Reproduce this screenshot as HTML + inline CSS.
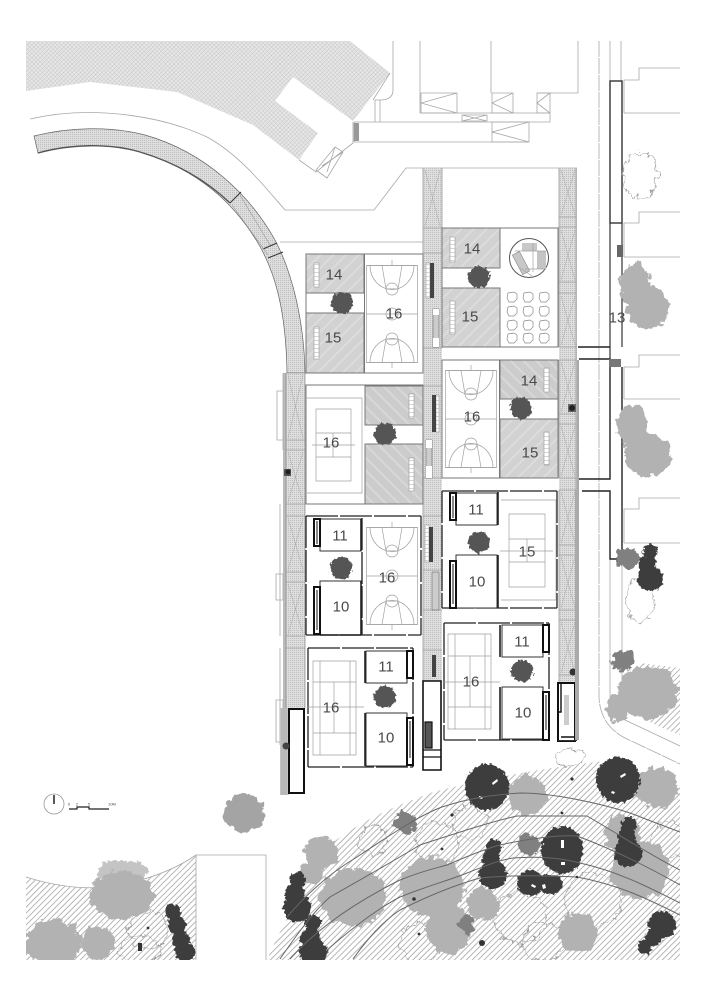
<!DOCTYPE html>
<html><head><meta charset="utf-8"><style>
html,body{margin:0;padding:0;background:#fff}
svg{display:block}
text{font-family:"Liberation Sans",sans-serif;font-size:15px;fill:#4a4a4a;text-anchor:middle;dominant-baseline:central}
.l{fill:none;stroke:#a8a8a8;stroke-width:.8}
.k{fill:none;stroke:#222;stroke-width:1.6}
.w{fill:#fff;stroke:#111;stroke-width:2}
.c{fill:none;stroke:#a0a0a0;stroke-width:.7}
.p{fill:none;stroke:#666;stroke-width:1}
</style></head><body>
<svg width="707" height="1000" viewBox="0 0 707 1000" xmlns="http://www.w3.org/2000/svg">
<defs>
<pattern id="x" width="3" height="3" patternUnits="userSpaceOnUse" patternTransform="rotate(45)"><rect width="3" height="3" fill="#e6e6e6"/><path d="M0 0H3M0 0V3" stroke="#b4b4b4" stroke-width=".6"/></pattern>
<pattern id="h" width="4.2" height="4.2" patternUnits="userSpaceOnUse" patternTransform="rotate(-45)"><path d="M0 .5H4.2" stroke="#909090" stroke-width=".65"/></pattern>
<pattern id="g" width="2" height="2" patternUnits="userSpaceOnUse"><rect width="2" height="2" fill="#dedede"/><rect width="1" height="1" fill="#bdbdbd"/></pattern>
<pattern id="s" width="9" height="9" patternUnits="userSpaceOnUse" patternTransform="rotate(-45)"><rect width="9" height="9" fill="#d2d2d2"/><path d="M0 2H9" stroke="#dcdcdc" stroke-width="2"/></pattern>
<pattern id="s2" width="9" height="9" patternUnits="userSpaceOnUse" patternTransform="rotate(45)"><rect width="9" height="9" fill="#cccccc"/><path d="M0 2H9" stroke="#d8d8d8" stroke-width="2"/></pattern>
<pattern id="b" width="5" height="4" patternUnits="userSpaceOnUse"><rect width="5" height="4" fill="#fff"/><path d="M0 0H5" stroke="#999" stroke-width=".8"/></pattern>
<filter id="t" filterUnits="userSpaceOnUse" x="0" y="0" width="707" height="1000" color-interpolation-filters="sRGB"><feTurbulence type="fractalNoise" baseFrequency=".14" numOctaves="3" seed="4"/><feDisplacementMap in="SourceGraphic" scale="11" xChannelSelector="R" yChannelSelector="G"/></filter>
<filter id="t2" filterUnits="userSpaceOnUse" x="0" y="0" width="707" height="1000" color-interpolation-filters="sRGB"><feTurbulence type="fractalNoise" baseFrequency=".3" numOctaves="2" seed="9"/><feDisplacementMap in="SourceGraphic" scale="6" xChannelSelector="R" yChannelSelector="G"/></filter>
<clipPath id="cl"><rect x="26" y="41" width="654" height="919"/></clipPath>
<g id="hc"><path d="M-25.5-48.5H25.5M-22-48.5A22 24 0 0 0 22-48.5M-10-48.5L-6-25H6L10-48.5M0-54V-49M-4-48.5H4" class="c"/><circle cy="-25" r="6" class="c"/><path d="M-6-25H6" class="c"/></g>
<g id="bb"><rect x="-25.5" y="-48.5" width="51" height="97" class="c"/><path d="M-25.5 0H25.5" class="c"/><circle r="6" class="c"/><use href="#hc"/><use href="#hc" transform="scale(1,-1)"/></g>
<path id="st" d="M-4-4L2-5 5-3 5 2 2 5-3 5-5 1Z" fill="#fff" stroke="#888" stroke-width=".7"/>
</defs>
<rect width="707" height="1000" fill="#fff"/>

<!-- top-left hatch -->
<path d="M26 41H350L390 73 353 121 293 77 275 101 318 133 299 160 253 125 177 92 90 82 26 91Z" fill="url(#x)"/>
<path d="M299 160L316 172 353 143V122M390 73L373 100M335 147L343 152 327 178 316 170ZM335 147L327 172M343 152L322 166" class="l"/>
<path d="M30 119C90 105 160 115 207 137C240 155 265 187 285 210H374L406 168H577" class="l"/>
<path d="M393 41V90Q393 100 380 100H375V122H380V100M420 41V113M491 41V93M578 41V93H537M354 122H420M420 113H550M420 122H550L550 113M354 142H529M354 122V142" class="l"/>
<rect x="354" y="123" width="5" height="18" fill="#999"/>
<path d="M421 93H457V113H421ZM421 103L457 93M421 103L457 113M492 93H513V113H492ZM492 103L513 93M492 103L513 113M537 93H550V113H537ZM537 103L550 93M537 103L550 113M492 122H529V142H492ZM492 132L529 122M492 132L529 142M462 115H487V121H462ZM462 121L487 115M462 115L487 121" class="l"/>
<path d="M280 242H423" class="l"/>

<!-- curved pavement -->
<path d="M34 136C70 127 110 126 145 135C205 152 250 195 275 240C292 272 304 320 305 373H287C286 310 275 272 258 243C235 205 200 170 140 152C110 143 70 144 38 153Z" fill="url(#g)" stroke="#666" stroke-width=".7"/>
<path d="M38 153C70 144 110 143 140 152C180 164 208 182 230 203" fill="none" stroke="#555" stroke-width="1.4"/>
<path d="M230 203L241 192M263 249L277 243M268 258L283 252" stroke="#333" stroke-width="1"/>
<path d="M240 195L270 245M232 205L268 255" stroke="#999" stroke-width=".6"/>

<!-- strips -->
<rect x="286" y="373" width="19" height="335" fill="url(#g)"/>
<rect x="423" y="168" width="19" height="513" fill="url(#g)"/>
<rect x="559" y="168" width="18" height="572" fill="url(#g)"/>
<rect x="577" y="360" width="2" height="380" fill="#aaa"/>
<rect x="283" y="373" width="3" height="335" fill="#bbb"/>
<path d="M305 373V708M286 373V708M423 168V348M442 168V348M423 386V681M442 386V478M559 168V347M559 360V478M559 490V740M576 168V740" stroke="#888" stroke-width=".7" fill="none"/>
<path d="M423 228H442M423 253H442M423 348H442M423 386H442M423 478H442M423 516H442M423 570H442M423 610H442M423 650H442M559 217H576M559 227H576M559 282H576M559 293H576M559 347H576M559 360H576M559 414H576M559 424H576M559 478H576M559 490H576M559 545H576M559 555H576M559 610H576M559 620H576M559 675H576M286 373H305M286 440H305M286 450H305M286 504H305M286 516H305M286 572H305M286 582H305M286 636H305M286 648H305" stroke="#888" stroke-width=".6"/>
<path d="M425 170L440 226M440 170L425 226M561 170L575 215M575 170L561 215M561 230L575 280M575 230L561 280M561 296L575 345M575 296L561 345M561 362L575 412M575 362L561 412M561 426L575 476M575 426L561 476M561 492L575 543M575 492L561 543M561 557L575 608M575 557L561 608M561 622L575 673M575 622L561 673M288 375L303 438M303 375L288 438M288 452L303 502M303 452L288 502M288 518L303 570M303 518L288 570M288 584L303 634M303 584L288 634" stroke="#aaa" stroke-width=".5"/>
<path d="M283 373V450M280 440H283V373M277 391H283V440H277ZM276 574H283V600H276ZM276 700H283V742H276ZM280 504V636M280 648V745" class="l"/>
<rect x="284" y="469" width="7" height="7" fill="#555"/>
<circle cx="288" cy="472" r="2.5" fill="#222"/>
<rect x="568" y="404" width="8" height="8" fill="#666"/><circle cx="572" cy="408" r="3" fill="#222"/>
<circle cx="573" cy="672" r="3.5" fill="#333"/>

<!-- Block A -->
<rect x="306" y="254" width="117" height="119" fill="#fff" stroke="#777" stroke-width="1"/>
<rect x="306" y="254" width="58" height="39" fill="url(#s)" stroke="#777"/>
<rect x="306" y="313" width="58" height="60" fill="url(#s)" stroke="#777"/>
<path d="M364.500 254V373" stroke="#777"/>
<use href="#bb" x="392" y="314"/>
<!-- Block B -->
<rect x="306" y="385" width="117" height="119" fill="#fff" stroke="#777"/>
<rect x="365" y="386" width="58" height="39" fill="url(#s2)" stroke="#777"/>
<rect x="365" y="444" width="58" height="60" fill="url(#s2)" stroke="#777"/>
<path d="M307 398H362V493H307M316 409H351V481H316ZM316 433H351M316 457H351M312 445H355M333 433V457" class="c"/>
<!-- Block C -->
<rect x="442" y="228" width="116" height="119" fill="#fff" stroke="#777"/>
<rect x="442" y="228" width="58" height="40" fill="url(#s)" stroke="#777"/>
<rect x="442" y="288" width="58" height="59" fill="url(#s)" stroke="#777"/>
<circle cx="529" cy="258" r="19.500" fill="#fff" stroke="#555"/>
<rect x="522" y="243" width="15" height="8" fill="#c8c8c8"/>
<rect x="537" y="251" width="9" height="18" fill="#c4c4c4"/>
<rect x="517" y="252" width="8" height="22" fill="#c8c8c8" stroke="#888" stroke-width=".6" transform="rotate(-28 521 263)"/>
<path d="M515 251H546M533 243V272M525 269H546M520 268L532 276" class="c"/>
<use href="#st" x="512" y="297"/><use href="#st" x="528" y="297"/><use href="#st" x="544" y="297"/>
<use href="#st" x="512" y="311"/><use href="#st" x="528" y="311"/><use href="#st" x="544" y="311"/>
<use href="#st" x="512" y="325"/><use href="#st" x="528" y="325"/><use href="#st" x="544" y="325"/>
<use href="#st" x="512" y="338"/><use href="#st" x="528" y="338"/><use href="#st" x="544" y="338"/>
<!-- Block D -->
<rect x="442" y="360" width="116" height="118" fill="#fff" stroke="#777"/>
<rect x="500" y="360" width="58" height="39" fill="url(#s2)" stroke="#777"/>
<rect x="500" y="419" width="58" height="59" fill="url(#s)" stroke="#777"/>
<use href="#bb" x="471" y="419"/>
<path d="M499.500 360V478" stroke="#777"/>
<!-- small bars -->
<g fill="url(#b)" stroke="#999" stroke-width=".6">
<rect x="314" y="263" width="5" height="24"/><rect x="314" y="327" width="5" height="32"/>
<rect x="450" y="237" width="5" height="25"/><rect x="450" y="301" width="5" height="33"/>
<rect x="409" y="394" width="5" height="24"/><rect x="409" y="458" width="5" height="33"/>
<rect x="544" y="368" width="5" height="24"/><rect x="544" y="432" width="5" height="33"/>
<rect x="426" y="263" width="4" height="35"/><rect x="436" y="395" width="3" height="37"/><rect x="425" y="525" width="4" height="37"/>
</g>
<g fill="#444">
<rect x="430" y="263" width="4" height="35"/><rect x="432" y="395" width="4" height="37"/><rect x="429" y="527" width="4" height="35"/><rect x="432" y="655" width="4" height="22"/>
</g>
<g fill="#ccc" stroke="#666" stroke-width=".6">
<rect x="433" y="309" width="6" height="38"/><rect x="426" y="440" width="6" height="38"/><rect x="432" y="572" width="7" height="38"/>
</g>
<path d="M433 309h6v6h-6zM426 440h6v8h-6zM426 466h6v12h-6zM433 338h6v9h-6z" fill="#fff"/>

<!-- Block E -->
<path d="M306 516H421V635H306Z" fill="#fff"/>
<rect x="320" y="519" width="41" height="32" fill="#fff" stroke="#333"/>
<rect x="320" y="581" width="41" height="54" fill="#fff" stroke="#333"/>
<path d="M306 516H421M306 635H421M306 516V635M362 518V635M421 516V635" stroke="#222" stroke-width="1.3" stroke-dasharray="32 2"/>
<path d="M361 519V551M361 581V635M320 635H361" class="k"/>
<use href="#bb" x="392" y="576"/>
<rect x="314" y="519" width="6" height="27" class="w"/><rect x="314" y="587" width="6" height="47" class="w"/>
<path d="M317 521V544M317 590V630" stroke="#111" stroke-width="1"/>
<!-- Block F -->
<path d="M306 648H413V767H306Z" fill="#fff"/>
<path d="M308 648H413M308 767H413M308 648V767M413 648V767" stroke="#222" stroke-width="1.3" stroke-dasharray="32 2"/>
<rect x="366" y="651" width="41" height="32" fill="#fff" stroke="#333"/>
<rect x="366" y="713" width="41" height="53" fill="#fff" stroke="#333"/>
<path d="M365 651V683M365 713V766" class="k"/>
<path d="M313 661H356V755H313ZM320 661V755M350 661V755M313 682H356M313 733H356M307 707H364M334 682V733" class="c"/>
<rect x="407" y="651" width="6" height="27" class="w"/><rect x="407" y="718" width="6" height="47" class="w"/>
<path d="M410 721V758" stroke="#111"/>
<!-- Block G -->
<path d="M442 490H557V608H442Z" fill="#fff"/>
<path d="M442 491H557M442 608H557M442 491V608M557 491V608" stroke="#222" stroke-width="1.3" stroke-dasharray="32 2"/>
<rect x="456" y="493" width="41" height="32" fill="#fff" stroke="#333"/>
<rect x="456" y="555" width="41" height="53" fill="#fff" stroke="#333"/>
<path d="M498 492V525M498 555V608" class="k"/>
<path d="M501 500H556V600H501M509 514H545V587H509ZM509 539H545M509 562H545M500 551H553M527 539V562" class="c"/>
<rect x="450" y="493" width="6" height="27" class="w"/><rect x="450" y="561" width="6" height="47" class="w"/>
<path d="M453 496V518M453 564V604" stroke="#111"/>
<!-- Block H -->
<path d="M444 622H557V740H444Z" fill="#fff"/>
<path d="M444 623H549M444 740H549M444 623V740M549 623V740" stroke="#222" stroke-width="1.3" stroke-dasharray="32 2"/>
<rect x="502" y="625" width="41" height="32" fill="#fff" stroke="#333"/>
<rect x="502" y="687" width="41" height="52" fill="#fff" stroke="#333"/>
<path d="M500 625V657M500 687V740" class="k"/>
<path d="M448 634H491V729H448ZM455 634V729M485 634V729M448 656H491M448 707H491M444 682H500M470 656V707" class="c"/>
<rect x="543" y="625" width="6" height="27" class="w"/><rect x="543" y="692" width="6" height="48" class="w"/>
<path d="M546 695V730" stroke="#111"/>
<!-- end cores -->
<rect x="280" y="708" width="9" height="87" fill="#c4c4c4"/>
<path d="M282 708V795M284 708V795M286 708V795" stroke="#999" stroke-width=".5"/>
<rect x="289" y="709" width="15" height="84" class="w" stroke-width="2.2"/>
<circle cx="286" cy="746" r="3.5" fill="#444"/>
<path d="M423 681H441V770H423Z" fill="#fff" stroke="#111" stroke-width="1.6"/>
<path d="M425 722H432V748H425ZM423 750H441M423 757H441" stroke="#111" stroke-width="1.2" fill="#555"/>
<rect x="558" y="683" width="17" height="58" class="w"/>
<path d="M561 684V712H558M561 737H575" stroke="#111" stroke-width="1.4" fill="none"/>
<rect x="564" y="695" width="5" height="30" fill="#ccc"/>
<rect x="575" y="490" width="2" height="250" fill="#aaa"/>
<rect x="558" y="740" width="19" height="1" fill="#333"/>

<!-- right promenade -->
<path d="M599 41V697Q600 725 625 738L680 764" class="l" stroke-dasharray="16 1"/>
<path d="M610 559V700Q612 712 625 720L680 746M622 560V680" class="l"/>
<path d="M610 41V81M621 41V81" class="l"/>
<rect x="610" y="81" width="12" height="142" fill="#fff" stroke="#333" stroke-width="1.4"/>
<path d="M610 223V359M622 223V347" stroke="#333" stroke-width="1.2" fill="none"/>
<rect x="617" y="245" width="6" height="12" fill="#666"/>
<path d="M578 347H610M579 359H610V479H579M582 491H610V559H622V367" fill="none" stroke="#222" stroke-width="1.4"/>
<rect x="609" y="359" width="12" height="8" fill="#777"/>
<path d="M624 113V80H639V68H680M624 113H680M624 257V223H639V212H680M624 257H680M624 399V367H639V355H680M624 399H680M624 543V509H639V498H680M624 543H680" class="l"/>

<!-- hatches bottom -->
<g clip-path="url(#cl)">
<path d="M267 960Q285 917 332 843C370 815 400 805 433 792C500 775 560 766 613 760L680 787V960Z" fill="url(#h)"/>
<path d="M26 877Q83 895 130 883Q170 873 196 855V960H26Z" fill="url(#h)"/>
<path d="M640 663L680 668V735Q640 720 625 705Z" fill="url(#h)"/>
<path d="M26 877Q83 895 130 883Q170 873 196 855" class="l"/>
<path d="M196 960V855H266V960" class="l"/>
<!-- outline trees -->
<g filter="url(#t)" fill="none" stroke="#999" stroke-width=".8">
<ellipse cx="373" cy="840" rx="14" ry="15"/><ellipse cx="570" cy="758" rx="15" ry="9"/><ellipse cx="437" cy="843" rx="21" ry="21"/><ellipse cx="470" cy="823" rx="17" ry="17"/>
<ellipse cx="420" cy="943" rx="20" ry="20"/><ellipse cx="520" cy="917" rx="27" ry="25"/><ellipse cx="593" cy="900" rx="28" ry="27"/><ellipse cx="543" cy="942" rx="21" ry="19"/><ellipse cx="670" cy="840" rx="18" ry="18"/><ellipse cx="148" cy="930" rx="20" ry="18"/><ellipse cx="140" cy="950" rx="20" ry="14"/>
<ellipse cx="640" cy="175" rx="17" ry="23"/><ellipse cx="640" cy="600" rx="14" ry="22"/>
</g>
<!-- light trees -->
<g filter="url(#t)" fill="#b2b2b2">
<ellipse cx="527" cy="795" rx="20" ry="20"/><ellipse cx="657" cy="788" rx="21" ry="20"/><ellipse cx="322" cy="853" rx="17" ry="16"/><ellipse cx="312" cy="873" rx="12" ry="11"/><ellipse cx="353" cy="897" rx="33" ry="29"/><ellipse cx="432" cy="887" rx="32" ry="30"/><ellipse cx="483" cy="905" rx="17" ry="16"/><ellipse cx="448" cy="928" rx="23" ry="25"/><ellipse cx="578" cy="933" rx="20" ry="20"/><ellipse cx="622" cy="833" rx="18" ry="19"/><ellipse cx="640" cy="870" rx="29" ry="29"/>
<ellipse cx="123" cy="873" rx="25" ry="13" fill="#c4c4c4"/><ellipse cx="122" cy="895" rx="32" ry="24"/><ellipse cx="53" cy="943" rx="28" ry="23"/><ellipse cx="98" cy="943" rx="17" ry="17"/><ellipse cx="244" cy="813" rx="21" ry="19" fill="#a4a4a4"/>
<ellipse cx="635" cy="285" rx="16" ry="22"/><ellipse cx="648" cy="308" rx="21" ry="21"/><ellipse cx="632" cy="425" rx="16" ry="21"/><ellipse cx="648" cy="455" rx="23" ry="22"/>
<ellipse cx="648" cy="692" rx="30" ry="27"/><ellipse cx="617" cy="708" rx="10" ry="14"/>
</g>
<g filter="url(#t)" fill="#808080">
<ellipse cx="405" cy="823" rx="11" ry="11"/><ellipse cx="467" cy="925" rx="8" ry="9"/><ellipse cx="528" cy="844" rx="11" ry="11"/><ellipse cx="628" cy="558" rx="11" ry="11"/><ellipse cx="623" cy="661" rx="11" ry="11"/>
</g>
<!-- dark trees -->
<g filter="url(#t2)" fill="#3d3d3d">
<ellipse cx="487" cy="787" rx="22" ry="23"/><ellipse cx="618" cy="780" rx="22" ry="23"/><ellipse cx="562" cy="850" rx="21" ry="24"/><ellipse cx="530" cy="883" rx="13" ry="13"/><ellipse cx="550" cy="884" rx="13" ry="10"/>
<circle cx="494" cy="847" r="8"/><ellipse cx="491" cy="860" rx="9" ry="11"/><circle cx="493" cy="875" r="14"/>
<circle cx="629" cy="825" r="8"/><ellipse cx="627" cy="838" rx="9" ry="12"/><circle cx="628" cy="853" r="14"/>
<circle cx="298" cy="880" r="8"/><circle cx="295" cy="893" r="10"/><circle cx="297" cy="908" r="14"/>
<circle cx="313" cy="923" r="8"/><circle cx="310" cy="938" r="10"/><circle cx="313" cy="952" r="14"/>
<circle cx="662" cy="925" r="14"/><circle cx="653" cy="938" r="8"/><circle cx="645" cy="947" r="7"/>
<circle cx="173" cy="912" r="8"/><circle cx="177" cy="925" r="9"/><circle cx="181" cy="940" r="9"/><circle cx="185" cy="952" r="10"/>
<circle cx="650" cy="551" r="7"/><ellipse cx="647" cy="564" rx="9" ry="8"/><circle cx="650" cy="578" r="13"/>
</g>
<g fill="#fff"><path d="M492 783l5-4 1 2-5 4zM479 796l4 1-1 2-3-1zM620 776l5-3 1 2-5 3zM612 791l3 1-1 2-3-1zM561 840h3v8h-3zM561 862h4v3h-4zM532 884l4 2-1 2-4-2zM542 885l3-1 1 4-3 1z"/></g>
<!-- paths -->
<path d="M287 917C310 890 335 870 357 857C390 835 420 815 442 807C470 798 490 795 520 793C560 793 620 808 643 818L680 832" class="p"/>
<path d="M280 959C300 930 315 910 330 897C360 880 395 860 420 845C460 832 490 822 517 816H587C620 835 650 855 680 870" class="p"/>
<path d="M290 959C320 925 360 900 400 880C425 870 437 868 447 865C470 855 485 849 500 845C530 838 560 835 577 836C615 850 650 868 680 885" class="p"/>
<path d="M327 950C350 930 375 910 400 897C430 885 450 880 467 873C490 864 500 860 513 858C540 856 560 858 580 863C620 872 650 888 680 903" class="p"/>
<path d="M353 959C370 935 385 920 400 910C430 895 455 885 480 878C510 875 540 875 577 877C620 885 650 900 680 915" class="p"/>
<g fill="#333"><circle cx="572" cy="779" r="1.600"/><circle cx="452" cy="815" r="1.600"/><circle cx="442" cy="849" r="1.400"/><circle cx="414" cy="899" r="1.800"/><circle cx="419" cy="934" r="1.400"/><circle cx="482" cy="943" r="3"/><circle cx="562" cy="813" r="1.400"/><circle cx="577" cy="877" r="1.200"/><circle cx="148" cy="928" r="1.400"/><rect x="138" y="943" width="4" height="8"/></g>
</g>
<!-- courtyard trees -->
<g filter="url(#t2)" fill="#555">
<ellipse cx="342" cy="303" rx="11" ry="11"/><ellipse cx="385" cy="434" rx="11" ry="11"/><ellipse cx="479" cy="277" rx="11" ry="11"/><ellipse cx="521" cy="408" rx="11" ry="11"/>
<ellipse cx="341" cy="568" rx="11" ry="11"/><ellipse cx="479" cy="542" rx="11" ry="11"/><ellipse cx="385" cy="697" rx="11" ry="11"/><ellipse cx="522" cy="671" rx="11" ry="11"/>
</g>

<!-- labels -->
<text x="334" y="275">14</text><text x="333" y="338">15</text><text x="394" y="314">16</text>
<text x="472" y="249">14</text><text x="470" y="317">15</text>
<text x="331" y="443">16</text>
<text x="529" y="381">14</text><text x="472" y="417">16</text><text x="530" y="453">15</text>
<text x="340" y="536">11</text><text x="341" y="607">10</text><text x="387" y="578">16</text>
<text x="476" y="510">11</text><text x="477" y="582">10</text><text x="527" y="552">15</text>
<text x="331" y="708">16</text><text x="386" y="667">11</text><text x="386" y="738">10</text>
<text x="471" y="682">16</text><text x="522" y="642">11</text><text x="523" y="713">10</text>
<text x="617" y="318">13</text>

<!-- north/scale -->
<circle cx="54" cy="804" r="10" fill="#fff" stroke="#999" stroke-width=".8"/>
<path d="M54 795V804" stroke="#111" stroke-width="1.4"/>
<path d="M69 809H77V807H89V809H109" fill="none" stroke="#222" stroke-width="1.2"/>
<text x="69" y="804" style="font-size:4px">0</text><text x="77" y="804" style="font-size:4px">2</text><text x="89" y="804" style="font-size:4px">5</text><text x="112" y="804" style="font-size:4px">10M</text>
</svg>
</body></html>
